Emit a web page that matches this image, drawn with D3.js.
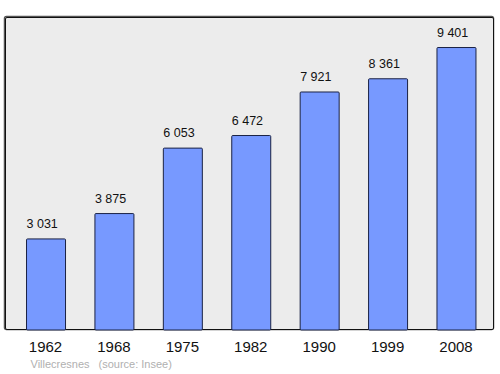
<!DOCTYPE html>
<html>
<head>
<meta charset="utf-8">
<script src="https://cdn.jsdelivr.net/npm/d3@7"></script>
<style>
	body { margin: 0; background: #fff; }
	text { font-family: "Liberation Sans", Arial, sans-serif; }
</style>
</head>
<body>
<div id="content"></div>
<script>
var years = ["1962", "1968", "1975", "1982", "1990", "1999", "2008"];
var population = [3031, 3875, 6053, 6472, 7921, 8361, 9401];
var valueLabels = ["3 031", "3 875", "6 053", "6 472", "7 921", "8 361", "9 401"];
var commune = "Villecresnes";
var source = "(source: Insee)";

var svg = d3.select("#content").append("svg")
	.attr("width", 500).attr("height", 374);

// panel with darker top/left edge
svg.append("rect").attr("x", 4.5).attr("y", 16.5).attr("width", 489).attr("height", 313)
	.attr("rx", 2).style("fill", "none").style("stroke", "#555").style("stroke-width", 1.5);
svg.append("rect").attr("x", 5.5).attr("y", 17.5).attr("width", 488).attr("height", 312)
	.attr("rx", 1.5).style("fill", "#ececec").style("stroke", "#111").style("stroke-width", 1);

var x = d3.scaleBand().domain(years).range([5.5, 496]).paddingInner(0.43).paddingOuter(0.3);
var y = d3.scaleLinear().domain([0, 10400]).range([329.5, 17]);

svg.selectAll("rect.bar")
	.data(population)
	.enter()
	.append("rect")
	.attr("class", "bar")
	.attr("x", function (d, i) { return x(years[i]) + 0.5; })
	.attr("y", function (d) { return y(d) + 0.5; })
	.attr("width", x.bandwidth())
	.attr("height", function (d) { return y(0) - y(d); })
	.attr("rx", 1)
	.style("fill", "#7799ff")
	.style("stroke", "#1a2244")
	.style("stroke-width", 1);

// value labels sit left-aligned over the bars
svg.selectAll("text.val")
	.data(population)
	.enter()
	.append("text")
	.attr("class", "val")
	.attr("x", function (d, i) { return x(years[i]) + 0.5; })
	.attr("y", function (d) { return y(d) - 10.5; })
	.style("font-size", "12.5px")
	.style("fill", "#111")
	.text(function (d, i) { return valueLabels[i]; });

var xAxis = d3.axisBottom(x).tickSize(0).tickPadding(11.5);
var ax = svg.append("g").attr("transform", "translate(0,330)").call(xAxis);
ax.select(".domain").remove();
ax.selectAll("text").style("font-size", "15px").style("fill", "#111")
	.style("font-family", "\"Liberation Sans\", Arial, sans-serif");

svg.append("text").attr("x", 30.5).attr("y", 367.5).style("font-size", "11px").style("fill", "#b0b0b0").text(commune);
svg.append("text").attr("x", 98.5).attr("y", 367.5).style("font-size", "11px").style("fill", "#b0b0b0").text(source);
</script>
</body>
</html>
